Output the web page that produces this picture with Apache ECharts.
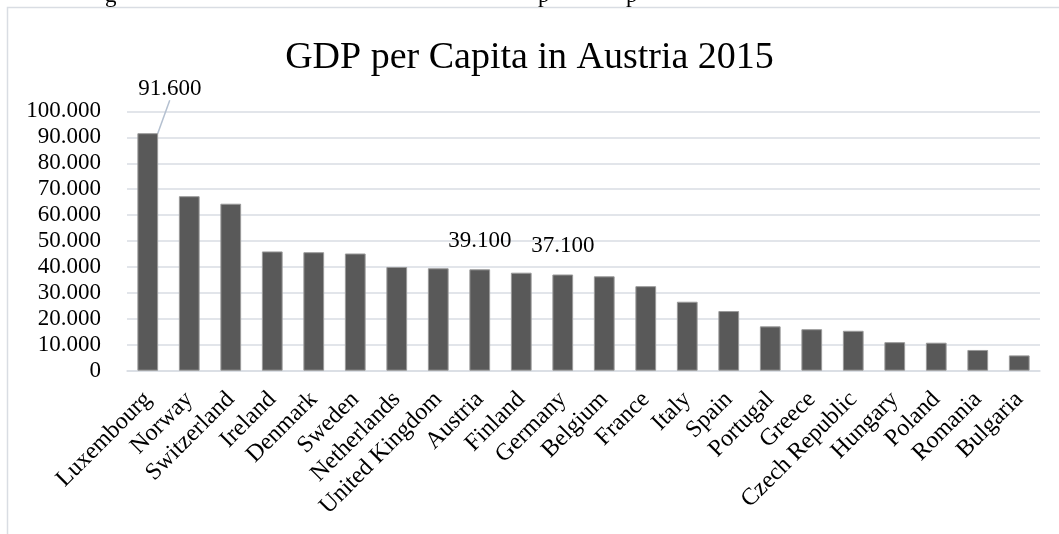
<!DOCTYPE html>
<html>
<head>
<meta charset="utf-8">
<script src="https://cdn.jsdelivr.net/npm/echarts@6/dist/echarts.min.js"></script>
<style>
  html, body { margin: 0; padding: 0; background: #fff; }
  #chart { width: 1059px; height: 534px; }
</style>
</head>
<body>
<div id="chart"></div>
<script>
const countries = ['Luxembourg', 'Norway', 'Switzerland', 'Ireland', 'Denmark', 'Sweden',
  'Netherlands', 'United Kingdom', 'Austria', 'Finland', 'Germany', 'Belgium', 'France',
  'Italy', 'Spain', 'Portugal', 'Greece', 'Czech Republic', 'Hungary', 'Poland',
  'Romania', 'Bulgaria'];
const gdp = [91600, 67300, 64400, 46000, 45700, 45200, 40000, 39500, 39100, 37800, 37100,
  36400, 32600, 26600, 23000, 17100, 16000, 15400, 11000, 10800, 8000, 5900];
const labelled = ['Luxembourg', 'Austria', 'Germany'];
const yTicks = { min: 0, max: 100000, step: 10000 };

const FONT = '"Liberation Serif", "DejaVu Serif", serif';
const fmt = v => String(v).replace(/\B(?=(\d{3})+(?!\d))/g, '.');

let myChart = echarts.init(document.getElementById('chart'), null, { renderer: 'canvas' });

let barData = gdp.map((v, i) => {
  let item = { value: v };
  if (labelled.includes(countries[i])) {
    item.label = { show: true };
  }
  // only the first label is pulled away and gets a leader line
  if (i === 0) {
    item.labelLine = { show: true, lineStyle: { color: '#b4c0d0', width: 1.5 } };
  }
  return item;
});

let option = {
  animation: false,
  backgroundColor: '#fff',
  graphic: [
    {
      type: 'rect',
      shape: { x: 7.5, y: 7.5, width: 1100, height: 600 },
      style: { fill: 'none', stroke: '#d9dde3', lineWidth: 1.5 },
      silent: true
    },
    // cut-off text line above the chart box
    { type: 'text', left: 105, top: -16, style: { text: 'g', font: '23px ' + FONT, fill: '#000' } },
    { type: 'text', left: 538, top: -16, style: { text: 'p', font: '23px ' + FONT, fill: '#000' } },
    { type: 'text', left: 626, top: -16, style: { text: 'p', font: '23px ' + FONT, fill: '#000' } }
  ],
  title: {
    text: 'GDP per Capita in Austria 2015',
    left: 'center',
    top: 34,
    textStyle: { fontFamily: FONT, fontSize: 38, fontWeight: 'normal', color: '#000' }
  },
  grid: { left: 127, right: 19, top: 111.4, bottom: 163.3 },
  xAxis: {
    type: 'category',
    data: countries,
    axisLine: { show: true, lineStyle: { color: '#d9dde3', width: 1.5 } },
    axisTick: { show: false },
    axisLabel: {
      rotate: 45,
      interval: 0,
      margin: 25,
      fontFamily: FONT,
      fontSize: 24,
      color: '#000'
    }
  },
  yAxis: {
    type: 'value',
    min: yTicks.min,
    max: yTicks.max,
    interval: yTicks.step,
    axisLine: { show: false },
    axisTick: { show: false },
    splitLine: { lineStyle: { color: '#d9dde3', width: 1.5 } },
    axisLabel: {
      formatter: fmt,
      margin: 26,
      fontFamily: FONT,
      fontSize: 23,
      color: '#000'
    }
  },
  series: [
    {
      type: 'bar',
      data: barData,
      barCategoryGap: '50%',
      itemStyle: { color: '#595959', borderColor: '#9a9a9a', borderWidth: 1 },
      label: {
        show: false,
        position: 'top',
        distance: 17,
        formatter: p => fmt(p.value),
        fontFamily: FONT,
        fontSize: 23,
        color: '#000'
      },
      labelLine: { show: false },
      labelLayout: function (params) {
        if (params.dataIndex === 0) {
          return { dx: 22, dy: -16 };
        }
        return {};
      }
    }
  ]
};

option && myChart.setOption(option);
</script>
</body>
</html>
